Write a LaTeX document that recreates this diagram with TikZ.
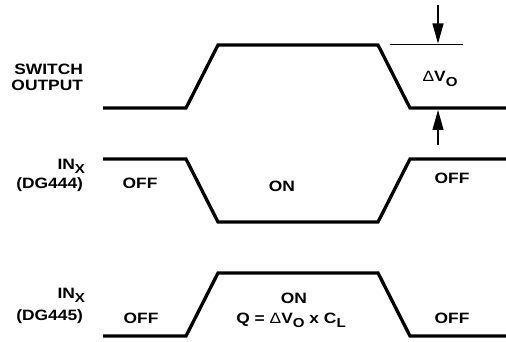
\documentclass[tikz,border=0pt]{standalone}
\usepackage{fontspec}
\setmainfont{Liberation Sans}[FakeStretch=1.16]
\usetikzlibrary{arrows.meta}
\newcommand{\lowsub}[1]{\raisebox{-4.5pt}{\fontsize{13}{13}\selectfont #1}}
\newcommand{\dlt}{{\mdseries Δ}}
\begin{document}
\begin{tikzpicture}[x=1pt,y=-1pt,inner sep=0pt,outer sep=0pt,
trace/.style={line width=3.3pt,line join=miter},
lbl/.style={font=\fontsize{15}{17}\selectfont\bfseries},
dimline/.style={line width=1.2pt},
dimarrow/.style={line width=1.2pt,-{Triangle[length=20pt,width=11pt]}}]
\useasboundingbox (0,0) rectangle (506,342);
% switch output
\draw[trace] (103,108) -- (186,108) -- (218,45) -- (378,45) -- (410,108) -- (506,108);
% IN_X (DG444)
\draw[trace] (103,159) -- (186,159) -- (218,222) -- (378,222) -- (410,159) -- (506,159);
% IN_X (DG445)
\draw[trace] (103,336) -- (186,336) -- (218,273) -- (378,273) -- (410,336) -- (506,336);
% delta V_O marker
\coordinate (refl) at (390,44.5);
\coordinate (refr) at (463,44.5);
\coordinate (dvtop) at (438,5);
\coordinate (dvhi) at (438,43.5);
\coordinate (dvbot) at (438,145);
\coordinate (dvlo) at (438,110);
\draw[dimline] (refl) -- (refr);
\draw[dimarrow] (dvtop) -- (dvhi);
\draw[dimarrow] (dvbot) -- (dvlo);
\node[lbl,anchor=base] (dvo) at (440,82) {\dlt V\lowsub{O}};
% left labels
\node[lbl,anchor=base east] (sw) at (83,75) {SWITCH};
\node[lbl,anchor=base east] (out) at (83,91) {OUTPUT};
\node[lbl,anchor=base east] (in1) at (85,169) {IN\lowsub{X}};
\node[lbl,anchor=base east] (dg1) at (83,189) {(DG444)};
\node[lbl,anchor=base east] (in2) at (85,298) {IN\lowsub{X}};
\node[lbl,anchor=base east] (dg2) at (83,320) {(DG445)};
% state labels
\node[lbl,anchor=base] (off1) at (140,188) {OFF};
\node[lbl,anchor=base] (on1) at (282,191) {ON};
\node[lbl,anchor=base] (off2) at (452,183) {OFF};
\node[lbl,anchor=base] (off3) at (141,323) {OFF};
\node[lbl,anchor=base] (on2) at (294,303) {ON};
\node[lbl,anchor=base] (qeq) at (291,323) {Q = \dlt V\lowsub{O} x C\lowsub{L}};
\node[lbl,anchor=base] (off4) at (452,323) {OFF};
\end{tikzpicture}
\end{document}
